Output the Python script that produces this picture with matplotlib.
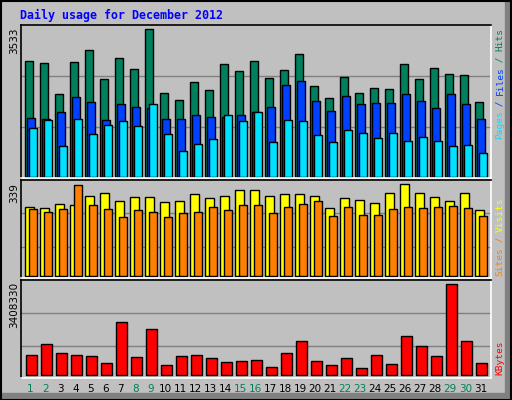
import matplotlib
matplotlib.use("Agg")
import matplotlib.pyplot as plt
from matplotlib.patches import Rectangle

days = list(range(1, 32))
weekend = [1, 2, 8, 9, 15, 16, 22, 23, 29, 30]
hits = [2768, 2720, 1976, 2744, 3032, 2336, 2840, 2576, 3533, 2000, 1832, 2264, 2072, 2696, 2528, 2768,
        2360, 2552, 2936, 2168, 1880, 2384, 2000, 2120, 2096, 2696, 2336, 2600, 2456, 2432, 1784]
files = [1400, 1376, 1544, 1904, 1784, 1352, 1736, 1664, 1640, 1376, 1376, 1472, 1424, 1424, 1472, 1544,
         1664, 2192, 2288, 1808, 1568, 1928, 1736, 1760, 1760, 1976, 1808, 1640, 1976, 1736, 1376]
pages = [1160, 1352, 728, 1376, 1016, 1232, 1328, 1208, 1736, 1016, 608, 776, 896, 1472, 1328, 1544,
         824, 1352, 1328, 992, 824, 1112, 1040, 920, 1040, 848, 944, 848, 728, 752, 560]
visits = [254, 251, 265, 262, 295, 309, 276, 291, 291, 273, 276, 302, 287, 298, 320, 320,
          298, 302, 302, 295, 251, 287, 280, 269, 309, 339, 309, 291, 276, 306, 243]
sites = [247, 239, 247, 335, 262, 247, 217, 243, 239, 217, 232, 239, 254, 243, 262, 262,
         232, 254, 265, 276, 221, 254, 228, 228, 247, 254, 251, 254, 258, 251, 221]
kbytes = [749100, 1161100, 824000, 749100, 711600, 449500, 1985100, 674200, 1722900, 374600, 711600,
          749100, 636700, 486900, 524400, 561800, 299600, 824000, 1273500, 524400, 374600, 636700,
          262200, 749100, 412000, 1460700, 1086200, 711600, 3408330, 1273500, 449500]

W, H = 512, 400
BG = "#C0C0C0"
fig = plt.figure(figsize=(5.12, 4.0), dpi=100, facecolor=BG)

def fx(px): return px / W
def fy(py): return 1 - py / H

# outer border + shadow
fig.patches.append(Rectangle((fx(505), 0), fx(7), 1, transform=fig.transFigure, color="#808080", zorder=0))
fig.patches.append(Rectangle((0, 0), 1, fy(393), transform=fig.transFigure, color="#808080", zorder=0))
fig.patches.append(Rectangle((0.001, 0.001), 0.997, 0.997, transform=fig.transFigure, fill=False,
                             edgecolor="black", linewidth=1.5, zorder=5))

def make_ax(top, bottom):
    ax = fig.add_axes([fx(21), fy(bottom), fx(491) - fx(21), fy(top) - fy(bottom)])
    ax.set_facecolor(BG)
    ax.set_xlim(0, 470)
    ax.set_xticks([]); ax.set_yticks([])
    for s in ("top", "left"):
        ax.spines[s].set_color("black")
    for s in ("bottom", "right"):
        ax.spines[s].set_color("white")
    for s in ax.spines.values():
        s.set_linewidth(1.2)
    return ax

x0 = [4.3 + 15 * (d - 1) for d in days]
ek = dict(edgecolor="black", linewidth=1.0, align="edge")

ax1 = make_ax(25, 178)
ax1.set_ylim(-31, 3636)
for g in (1184, 2408):
    ax1.axhline(g, color="#808080", linewidth=1, zorder=0)
ax1.bar(x0, hits, width=7.3, color="#00805C", **ek)
ax1.bar([x + 2 for x in x0], files, width=7.3, color="#0040FF", **ek)
ax1.bar([x + 4 for x in x0], pages, width=7.3, color="#00E0FF", **ek)

ax2 = make_ax(180.3, 278.3)
ax2.set_ylim(-7, 354)
for g in (110, 232):
    ax2.axhline(g, color="#808080", linewidth=1, zorder=0)
ax2.bar(x0, visits, width=8.3, color="#FFFF00", **ek)
ax2.bar([x + 4 for x in x0], sites, width=7.3, color="#FF8000", **ek)

ax3 = make_ax(280.3, 377.5)
ax3.set_ylim(-82000, 3558000)
for g in (1086200, 2322200):
    ax3.axhline(g, color="#808080", linewidth=1, zorder=0)
ax3.bar([x + 1 for x in x0], kbytes, width=10.3, color="#FF0000", **ek)

# title
fig.text(fx(20), fy(15), "Daily usage for December 2012", color="#0000FF", family="DejaVu Sans Mono",
         fontsize=8.4, fontweight="bold", va="center", ha="left")

# max labels
for txt, ytop in (("3533", 28), ("339", 183), ("3408330", 282)):
    fig.text(fx(14), fy(ytop), txt, rotation=90, ha="center", va="top", fontsize=7.5, color="black")

# right side legends
def vlegend(parts, ybottom):
    adv = 5.5
    pos = ybottom
    for t, c in parts:
        fig.text(fx(500), fy(pos), t, rotation=90, ha="center", va="bottom", color=c,
                 family="DejaVu Sans Mono", fontsize=6.8)
        pos -= adv * len(t)

vlegend([("Pages", "#00E0FF"), (" / ", "#0040FF"), ("Files", "#0040FF"), (" / ", "#00805C"),
         ("Hits", "#00805C")], 139)
vlegend([("Sites", "#FF8000"), (" / ", "#FF8000"), ("Visits", "#FFFF00")], 276)
vlegend([("KBytes", "#FF0000")], 375)

# day labels
for d, x in zip(days, x0):
    c = "#00805C" if d in weekend else "black"
    fig.text(fx(21 + x + 5), fy(389), str(d), ha="center", va="center", fontsize=7.5, color=c)

fig.savefig("out.png", dpi=100, facecolor=BG)
